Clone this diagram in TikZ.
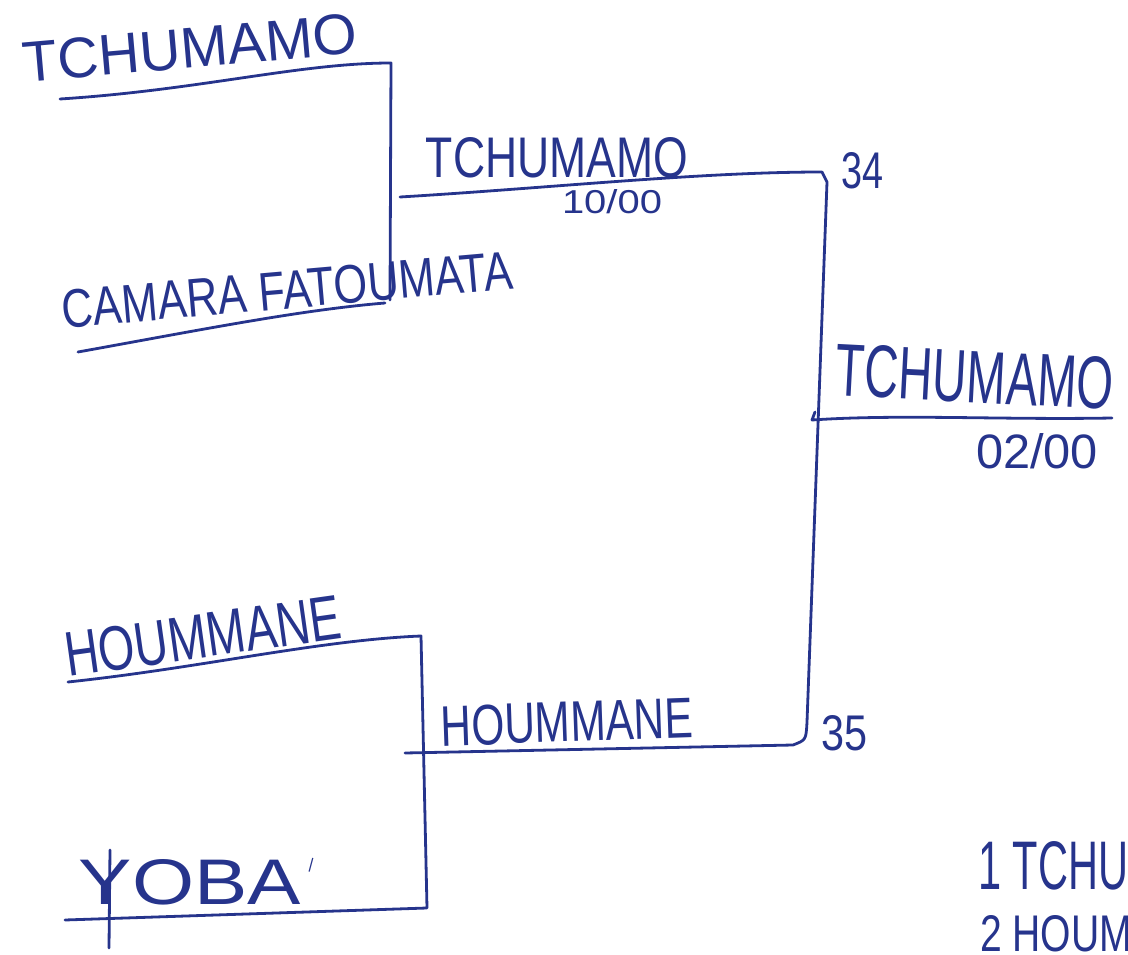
\documentclass[tikz,border=0pt]{standalone}
\usepackage{fontspec}
\setsansfont{Liberation Sans}
\usepackage{graphicx}
\definecolor{ink}{RGB}{38,52,140}
\newcommand{\hw}[3]{\resizebox{#1pt}{#2pt}{\sffamily #3}}
\begin{document}
\begin{tikzpicture}[x=1pt,y=-1pt,
  pen/.style={draw=ink,line width=2.8pt,line cap=round,line join=round},
  lbl/.style={text=ink,inner sep=0pt,anchor=center}]
\useasboundingbox (0,0) rectangle (1128,955);
% --- texts
\node[lbl,rotate=5] (t1) at (190,48) {\hw{335}{40}{TCHUMAMO}};
\node[lbl,rotate=5] (t2) at (287,290) {\hw{452}{38}{CAMARA FATOUMATA}};
\node[lbl] (t3) at (557,158) {\hw{262}{40}{TCHUMAMO}};
\node[lbl] (s1) at (612,202) {\hw{100}{24}{10/00}};
\node[lbl] (n34) at (862,171) {\hw{42}{36}{34}};
\node[lbl,rotate=-3] (t4) at (975,377) {\hw{278}{52}{TCHUMAMO}};
\node[lbl] (s2) at (1037,451) {\hw{122}{35}{02/00}};
\node[lbl,rotate=8] (h1) at (203,636) {\hw{278}{44}{HOUMMANE}};
\node[lbl,rotate=2] (h2) at (567,722) {\hw{252}{40}{HOUMMANE}};
\node[lbl] (n35) at (844,733) {\hw{46}{35}{35}};
\node[lbl] (y1) at (190,882) {\hw{222}{45}{YOBA}};
\node[lbl,rotate=-15] (y2) at (311,865) {\hw{4}{11}{|}};
\node[lbl,anchor=west] (r1) at (978,866) {\hw{150}{48}{1 TCHU}};
\node[lbl,anchor=west] (r2) at (980,934) {\hw{152}{36}{2 HOUM}};
% --- bracket coordinates
\coordinate (a1) at (60,99);
\coordinate (a2) at (391,63);
\coordinate (a3) at (390,300);
\coordinate (b1) at (78,352);
\coordinate (b2) at (385,303);
\coordinate (w1) at (400,197);
\coordinate (w2) at (822,172);
\coordinate (v1) at (827,182);
\coordinate (v2) at (807,722);
\coordinate (v3) at (793,745);
\coordinate (w3) at (405,753);
\coordinate (c1) at (68,682);
\coordinate (c2) at (421,636);
\coordinate (c3) at (427,908);
\coordinate (d1) at (65,920);
\coordinate (f0) at (815,412);
\coordinate (f1) at (812,420);
\coordinate (f2) at (1112,418);
\coordinate (ys1) at (110,850);
\coordinate (ys2) at (109,948);
% --- lines
\draw[pen] (a1) .. controls (200,90) and (300,63) .. (a2) -- (a3);
\draw[pen] (b1) .. controls (200,330) and (300,310) .. (b2);
\draw[pen] (w1) .. controls (550,188) and (700,172) .. (w2) -- (v1) -- (v2) .. controls (806,740) .. (v3) -- (w3);
\draw[pen] (c1) .. controls (200,668) and (320,640) .. (c2) -- (c3) -- (d1);
\draw[pen] (ys1) -- (ys2);
\draw[pen] (f0) -- (f1) .. controls (900,414) and (1000,420) .. (f2);
\end{tikzpicture}
\end{document}
